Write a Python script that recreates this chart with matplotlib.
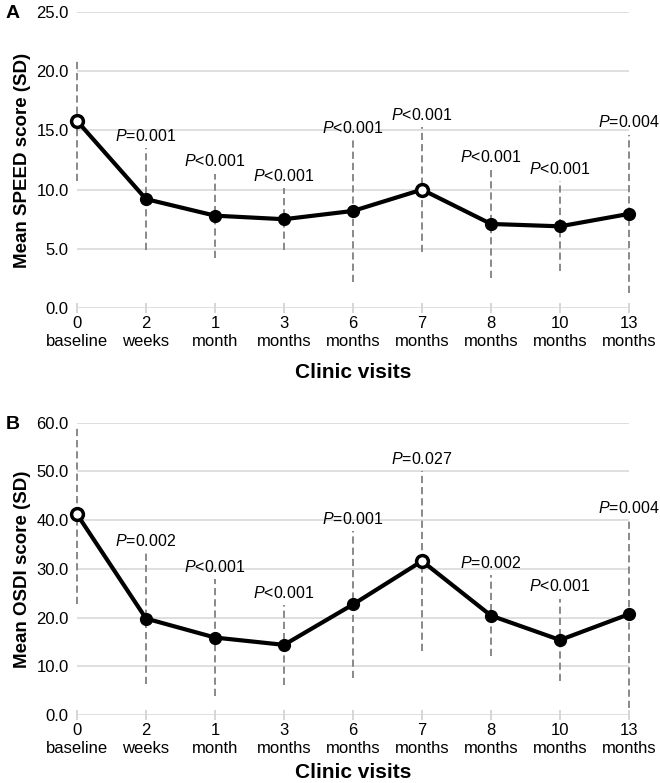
import matplotlib
matplotlib.use("Agg")
import matplotlib.pyplot as plt
import matplotlib.transforms as mtrans
import numpy as np

plt.rcParams['font.family'] = ['Liberation Sans', 'DejaVu Sans']
plt.rcParams['mathtext.fontset'] = 'custom'
plt.rcParams['mathtext.rm'] = 'Liberation Sans'
plt.rcParams['mathtext.it'] = 'Liberation Sans:italic'

# clinic visits: number and unit
visit_num = ["0", "2", "1", "3", "6", "7", "8", "10", "13"]
visit_unit = ["baseline", "weeks", "month", "months", "months",
              "months", "months", "months", "months"]

# panel A: SPEED score
speed_mean = [15.8, 9.2, 7.8, 7.5, 8.2, 10.0, 7.1, 6.9, 7.95]
speed_sd = [5.1, 4.3, 3.55, 2.6, 6.0, 5.3, 4.6, 3.8, 6.7]
speed_p = ["", "=0.001", "<0.001", "<0.001", "<0.001", "<0.001", "<0.001", "<0.001", "=0.004"]

# panel B: OSDI score
osdi_mean = [41.2, 19.8, 15.9, 14.4, 22.7, 31.6, 20.4, 15.4, 20.7]
osdi_sd = [18.4, 13.4, 12.0, 8.2, 15.0, 18.5, 8.3, 8.5, 19.3]
osdi_p = ["", "=0.002", "<0.001", "<0.001", "=0.001", "=0.027", "=0.002", "<0.001", "=0.004"]

# visits drawn with open marker
open_idx = [0, 5]


def draw_panel(ax, means, sds, pvals, ymax, ystep, ylabel, letter, xlabelpad):
    x = np.arange(len(means))
    means = np.array(means)
    sds = np.array(sds)

    # light horizontal grid
    yticks = np.arange(0, ymax + 0.1, ystep)
    ax.set_ylim(0, ymax)
    ax.set_xlim(0, len(means) - 1)
    ax.set_yticks(yticks)
    ax.set_yticklabels([f"{v:.1f}" for v in yticks])
    ax.yaxis.grid(True, color="#d9d9d9", linewidth=1.2)
    ax.set_axisbelow(True)
    for spine in ax.spines.values():
        spine.set_visible(False)

    # SD bars as dashed gray lines
    ax.vlines(x, means - sds, means + sds, colors="#808080",
              linestyles=(0, (4, 2.2)), linewidth=1.3, zorder=2, clip_on=False)

    # mean line
    ax.plot(x, means, color="black", linewidth=3, zorder=3, clip_on=False)
    filled = [i for i in x if i not in open_idx]
    ax.plot(x[filled], means[filled], "o", color="black", markersize=8.5,
            zorder=4, clip_on=False)
    ax.plot(x[open_idx], means[open_idx], "o", markerfacecolor="white",
            markeredgecolor="black", markeredgewidth=2.5, markersize=8.5,
            zorder=5, clip_on=False)

    # p-value labels above the SD bars
    for xi, top, p in zip(x, means + sds, pvals):
        if p:
            ax.annotate(r"$P$" + p, (xi, top), xytext=(0, 3),
                        textcoords="offset points", ha="center", va="bottom",
                        fontsize=11.5)

    # x ticks: number as tick label, unit as a second row below it
    ax.set_xticks(x)
    ax.set_xticklabels(visit_num, fontsize=12)
    ax.tick_params(axis="x", direction="inout", length=7, color="#d0d0d0",
                   width=1.2, pad=2)
    trans = mtrans.blended_transform_factory(ax.transData, ax.transAxes)
    for xi, unit in zip(x, visit_unit):
        ax.annotate(unit, (xi, 0), xycoords=trans, xytext=(0, -19),
                    textcoords="offset points", ha="center", va="top",
                    fontsize=12)

    ax.tick_params(axis="y", length=0, pad=6, labelsize=12)
    ax.set_ylabel(ylabel, fontsize=13.5, fontweight="bold", labelpad=4)
    ax.set_xlabel("Clinic visits", fontsize=15, fontweight="bold",
                  labelpad=xlabelpad)
    ax.text(-0.13, 0.995, letter, transform=ax.transAxes, fontsize=14,
            fontweight="bold", ha="left", va="center")


fig = plt.figure(figsize=(6.6, 7.83), dpi=100)
ax_a = fig.add_axes([0.1167, 0.6066, 0.8364, 0.3781])
ax_b = fig.add_axes([0.1167, 0.0868, 0.8364, 0.3734])

draw_panel(ax_a, speed_mean, speed_sd, speed_p, 25, 5, "Mean SPEED score (SD)", "A", 23)
draw_panel(ax_b, osdi_mean, osdi_sd, osdi_p, 60, 10, "Mean OSDI score (SD)", "B", 18)

fig.savefig("out.png", dpi=100)
